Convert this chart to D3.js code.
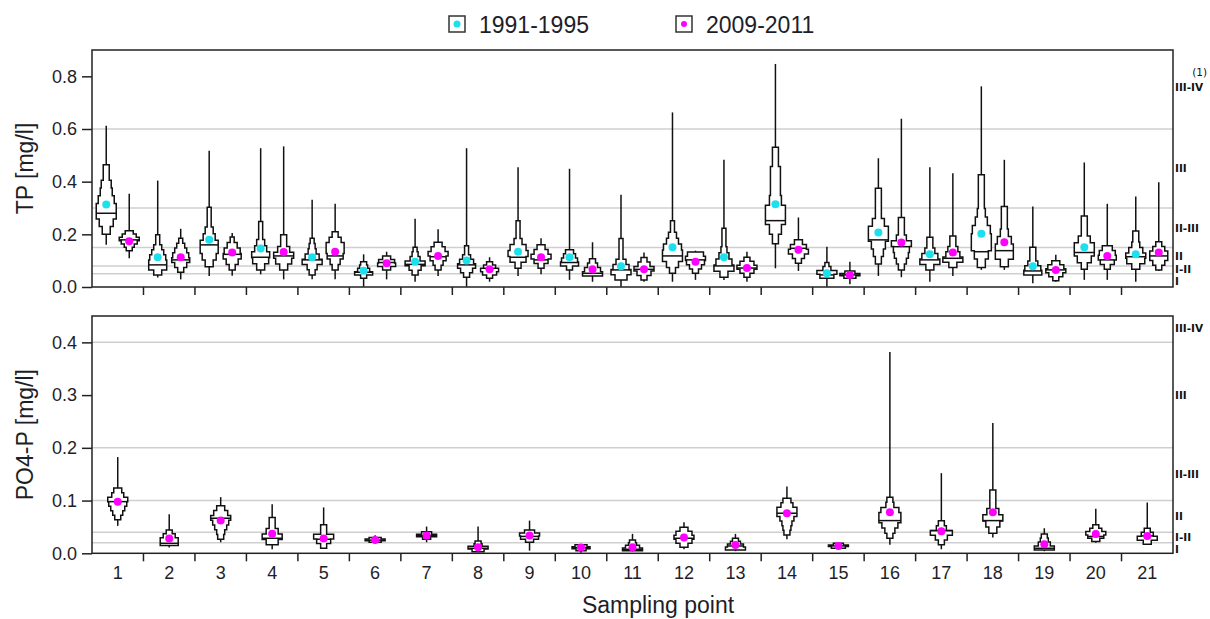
<!DOCTYPE html>
<html>
<head>
<meta charset="utf-8">
<script src="https://cdn.jsdelivr.net/npm/d3@7"></script>
<style>
  html, body { margin: 0; padding: 0; background: #fff; }
  svg { display: block; font-family: "Liberation Sans", Arial, sans-serif; }
</style>
</head>
<body>
<svg id="chart" width="1210" height="619"></svg>
<script>
// ---------------- DATA ----------------
const categories = ["1","2","3","4","5","6","7","8","9","10","11","12","13","14","15","16","17","18","19","20","21"];
const periods = ["1991-1995", "2009-2011"];

// each row: [min, histLow, median, mean, histHigh, max, histogram counts (bottom -> top)]
const tpEarly = [
  [0.160, 0.200, 0.280, 0.313, 0.464, 0.612, [4,7,10,10,8,6,5,3,3]],
  [0.036, 0.046, 0.084, 0.113, 0.198, 0.404, [4,9,9,8,6,4,2,2]],
  [0.042, 0.077, 0.160, 0.179, 0.303, 0.517, [4,7,9,9,6,4,2,2,2]],
  [0.048, 0.065, 0.113, 0.146, 0.249, 0.527, [4,8,9,6,4,2,2,2]],
  [0.029, 0.046, 0.103, 0.113, 0.185, 0.331, [3,5,10,7,4,3,2]],
  [0.001, 0.033, 0.056, 0.062, 0.096, 0.124, [3,9,6,4,3]],
  [0.020, 0.046, 0.086, 0.096, 0.151, 0.259, [3,6,10,5,3,2]],
  [0.001, 0.037, 0.084, 0.101, 0.157, 0.527, [3,6,9,7,4,2,2]],
  [0.042, 0.071, 0.113, 0.134, 0.252, 0.455, [3,8,10,8,4,2,2,2]],
  [0.027, 0.065, 0.093, 0.113, 0.141, 0.449, [3,9,8,6,4]],
  [0.001, 0.027, 0.065, 0.079, 0.184, 0.350, [6,10,8,5,2,2,2,2]],
  [0.020, 0.052, 0.118, 0.151, 0.252, 0.663, [3,6,10,10,9,6,4,2,2]],
  [0.027, 0.037, 0.080, 0.113, 0.223, 0.483, [4,10,8,5,3,2,2,2]],
  [0.071, 0.164, 0.252, 0.314, 0.531, 0.847, [3,6,10,10,6,5,5,5,3,3]],
  [0.001, 0.033, 0.046, 0.052, 0.093, 0.153, [7,10,4,2]],
  [0.042, 0.087, 0.179, 0.207, 0.375, 0.489, [3,5,7,10,10,6,3,3,3,3]],
  [0.020, 0.065, 0.103, 0.124, 0.189, 0.455, [4,10,8,5,3,3]],
  [0.065, 0.074, 0.134, 0.202, 0.426, 0.762, [4,7,10,10,9,6,4,3,3,3,3]],
  [0.014, 0.046, 0.061, 0.079, 0.151, 0.306, [9,8,5,3,3,3]],
  [0.027, 0.067, 0.131, 0.151, 0.270, 0.473, [3,7,10,10,6,3,3,3]],
  [0.020, 0.067, 0.115, 0.124, 0.213, 0.344, [4,9,10,7,4,3,3]]
];
const tpLate = [
  [0.109, 0.138, 0.179, 0.174, 0.214, 0.354, [3,5,8,10,7,4]],
  [0.029, 0.056, 0.103, 0.113, 0.185, 0.221, [3,6,9,8,6,4,2]],
  [0.043, 0.065, 0.124, 0.131, 0.190, 0.205, [3,6,9,8,5,2]],
  [0.029, 0.065, 0.118, 0.133, 0.198, 0.534, [4,8,10,6,3,3]],
  [0.029, 0.065, 0.118, 0.134, 0.210, 0.316, [3,5,8,9,9,6,3]],
  [0.029, 0.065, 0.093, 0.090, 0.118, 0.134, [4,9,8,4]],
  [0.042, 0.065, 0.115, 0.118, 0.170, 0.219, [3,5,8,10,7,4]],
  [0.020, 0.033, 0.071, 0.067, 0.096, 0.113, [3,7,9,6,3]],
  [0.048, 0.071, 0.103, 0.113, 0.160, 0.185, [3,7,10,7,4]],
  [0.020, 0.042, 0.052, 0.067, 0.107, 0.170, [10,8,5,3]],
  [0.020, 0.027, 0.067, 0.067, 0.112, 0.131, [3,7,10,6,3]],
  [0.027, 0.052, 0.103, 0.096, 0.133, 0.138, [3,6,9,10,8]],
  [0.020, 0.037, 0.072, 0.072, 0.113, 0.134, [3,7,10,7,3]],
  [0.061, 0.090, 0.147, 0.141, 0.179, 0.264, [3,6,10,8,4]],
  [0.010, 0.033, 0.046, 0.046, 0.061, 0.096, [6,10,5]],
  [0.037, 0.065, 0.153, 0.169, 0.264, 0.639, [3,5,7,8,10,5,3,3,3]],
  [0.042, 0.074, 0.109, 0.131, 0.194, 0.432, [4,10,7,5,3,3]],
  [0.065, 0.077, 0.138, 0.170, 0.306, 0.483, [4,9,9,7,4,3,3,3]],
  [0.020, 0.024, 0.065, 0.065, 0.100, 0.122, [3,7,10,8,4]],
  [0.027, 0.067, 0.103, 0.118, 0.157, 0.316, [3,7,9,8,5]],
  [0.061, 0.065, 0.118, 0.131, 0.172, 0.398, [3,6,9,9,6,3]]
];
const po4Late = [
  [0.0520, 0.0634, 0.0980, 0.0976, 0.1236, 0.1825, [3,5,7,9,10,6,4]],
  [0.0110, 0.0146, 0.0190, 0.0280, 0.0444, 0.0740, [9,9,6,3]],
  [0.0210, 0.0266, 0.0665, 0.0620, 0.0900, 0.1065, [3,4,6,8,10,7,4]],
  [0.0076, 0.0160, 0.0285, 0.0370, 0.0680, 0.0930, [6,10,6,3,3]],
  [0.0095, 0.0095, 0.0266, 0.0280, 0.0540, 0.0870, [3,7,10,3,3]],
  [0.0190, 0.0210, 0.0250, 0.0250, 0.0300, 0.0340, [6,10,6]],
  [0.0210, 0.0266, 0.0336, 0.0336, 0.0410, 0.0507, [4,10,5]],
  [0.0020, 0.0030, 0.0095, 0.0114, 0.0234, 0.0507, [6,10,4,3]],
  [0.0050, 0.0210, 0.0320, 0.0336, 0.0444, 0.0620, [4,9,10,5]],
  [0.0010, 0.0050, 0.0110, 0.0110, 0.0160, 0.0160, [5,9,6]],
  [0.0040, 0.0050, 0.0076, 0.0114, 0.0253, 0.0368, [10,7,4,3]],
  [0.0076, 0.0114, 0.0285, 0.0300, 0.0494, 0.0590, [4,8,10,8,4]],
  [0.0040, 0.0063, 0.0139, 0.0158, 0.0285, 0.0368, [10,8,5,3]],
  [0.0266, 0.0349, 0.0760, 0.0760, 0.1046, 0.1267, [3,4,5,7,10,10,6,4]],
  [0.0080, 0.0095, 0.0140, 0.0140, 0.0190, 0.0190, [7,10,5]],
  [0.0160, 0.0285, 0.0620, 0.0780, 0.1065, 0.3815, [3,5,8,11,11,9,4,3]],
  [0.0076, 0.0160, 0.0430, 0.0418, 0.0615, 0.1520, [3,6,11,5,3]],
  [0.0300, 0.0380, 0.0620, 0.0780, 0.1200, 0.2470, [4,7,10,6,3,3,3]],
  [0.0040, 0.0063, 0.0095, 0.0171, 0.0368, 0.0475, [10,6,4,3]],
  [0.0200, 0.0222, 0.0320, 0.0368, 0.0540, 0.0843, [4,8,10,6,3]],
  [0.0171, 0.0171, 0.0330, 0.0330, 0.0475, 0.0963, [4,10,6,3]]
];

// quality class boundaries (LAWA) and class labels
const tpLimits = [0.05, 0.08, 0.15, 0.3, 0.6];
const po4Limits = [0.02, 0.04, 0.1, 0.2, 0.4];
const classNames = ["I", "I-II", "II", "II-III", "III", "III-IV"];
const tpClassAt = [0.023, 0.067, 0.115, 0.225, 0.45, 0.76];
const po4ClassAt = [0.008, 0.031, 0.07, 0.15, 0.3, 0.427];
const tpTicks = [0, 0.2, 0.4, 0.6, 0.8];
const po4Ticks = [0, 0.1, 0.2, 0.3, 0.4];

// ---------------- LAYOUT ----------------
const svg = d3.select("#chart");
const L = 92, R = 1173;
const colors = { "1991-1995": "#1de0ee", "2009-2011": "#ff00ff" };
const textColor = "#1e1e28";

const x = d3.scaleBand().domain(categories).range([L, R]).padding(0);
const wScale = d3.scaleLinear().domain([0, 10]).range([0, 10]);

const panels = [
  { title: "TP [mg/l]", top: 50, bottom: 287, max: 0.9, ticks: tpTicks, limits: tpLimits, classAt: tpClassAt,
    series: [{ period: "1991-1995", data: tpEarly, off: -11.5 }, { period: "2009-2011", data: tpLate, off: 11.5 }], note: true, xLabels: false },
  { title: "PO4-P [mg/l]", top: 316, bottom: 553.3, max: 0.45, ticks: po4Ticks, limits: po4Limits, classAt: po4ClassAt,
    series: [{ period: "2009-2011", data: po4Late, off: 0 }], note: false, xLabels: true }
];

panels.forEach(p => {
  const y = d3.scaleLinear().domain([0, p.max]).range([p.bottom, p.top]);
  const g = svg.append("g");

  // grid lines at class limits
  g.selectAll("line.grid").data(p.limits).join("line")
    .attr("x1", L).attr("x2", R)
    .attr("y1", d => y(d)).attr("y2", d => y(d))
    .attr("stroke", "#cfcfcf").attr("stroke-width", 1.5);

  // class labels right of plot
  g.selectAll("text.cls").data(classNames).join("text")
    .attr("x", R + 2).attr("y", (d, i) => y(p.classAt[i]))
    .attr("dy", "0.36em")
    .attr("font-family", "DejaVu Sans, sans-serif").attr("font-weight", "bold")
    .attr("font-size", 10.5).attr("fill", "#111")
    .text(d => d);
  if (p.note) {
    g.append("text").attr("x", R + 34).attr("y", y(p.classAt[5]) - 11)
      .attr("text-anchor", "end")
      .attr("font-family", "DejaVu Sans, sans-serif").attr("font-size", 10.5).attr("fill", "#111")
      .text("(1)");
  }

  // y axis
  const ya = g.append("g").attr("transform", `translate(${L},0)`)
    .call(d3.axisLeft(y).tickValues(p.ticks).tickFormat(d3.format(".1f")).tickSize(10).tickPadding(5));
  ya.select(".domain").remove();
  ya.selectAll("line").attr("stroke", "#222").attr("stroke-width", 1.5);
  ya.selectAll("text").attr("font-size", 18).attr("fill", textColor)
    .attr("font-family", "Liberation Sans, Arial, sans-serif");

  // category separator ticks at bottom
  g.selectAll("line.sep").data(categories.slice(1)).join("line")
    .attr("x1", d => x(d)).attr("x2", d => x(d))
    .attr("y1", p.bottom).attr("y2", p.bottom + 8)
    .attr("stroke", "#222").attr("stroke-width", 1.5);

  if (p.xLabels) {
    const xa = g.append("g").attr("transform", `translate(0,${p.bottom})`)
      .call(d3.axisBottom(x).tickSize(0).tickPadding(13));
    xa.select(".domain").remove();
    xa.selectAll("text").attr("font-size", 18).attr("fill", textColor)
      .attr("font-family", "Liberation Sans, Arial, sans-serif");
  }

  // violins
  p.series.forEach(s => {
    const vg = g.append("g");
    s.data.forEach((row, i) => {
      const [mn, lo, med, mean, hi, mx, counts] = row;
      const cx = x(categories[i]) + x.bandwidth() / 2 + s.off;
      const n = counts.length, b = (hi - lo) / n;
      // whisker
      vg.append("line").attr("x1", cx).attr("x2", cx)
        .attr("y1", y(mn)).attr("y2", y(mx))
        .attr("stroke", "#111").attr("stroke-width", 1.5);
      // stepped histogram outline
      const pts = [];
      for (let k = 0; k < n; k++) {
        pts.push([cx + wScale(counts[k]), y(lo + k * b)], [cx + wScale(counts[k]), y(lo + (k + 1) * b)]);
      }
      for (let k = n - 1; k >= 0; k--) {
        pts.push([cx - wScale(counts[k]), y(lo + (k + 1) * b)], [cx - wScale(counts[k]), y(lo + k * b)]);
      }
      vg.append("path").attr("d", d3.line()(pts) + "Z")
        .attr("fill", "#fff").attr("stroke", "#111").attr("stroke-width", 1.5)
        .attr("stroke-linejoin", "miter");
      // median line
      const mk = Math.max(0, Math.min(n - 1, Math.floor((med - lo) / b)));
      const mw = wScale(counts[mk]);
      vg.append("line").attr("x1", cx - mw).attr("x2", cx + mw)
        .attr("y1", y(med)).attr("y2", y(med))
        .attr("stroke", "#111").attr("stroke-width", 1.5);
      // mean dot
      vg.append("circle").attr("cx", cx).attr("cy", y(mean)).attr("r", 4)
        .attr("fill", colors[s.period]);
    });
  });

  // frame
  g.append("rect").attr("x", L).attr("y", p.top).attr("width", R - L).attr("height", p.bottom - p.top)
    .attr("fill", "none").attr("stroke", "#222").attr("stroke-width", 1.5);

  // y title
  g.append("text")
    .attr("transform", `translate(33,${(p.top + p.bottom) / 2}) rotate(-90)`)
    .attr("text-anchor", "middle").attr("font-size", 23).attr("fill", textColor)
    .text(p.title);
});

// x title
svg.append("text").attr("x", 658).attr("y", 613).attr("text-anchor", "middle")
  .attr("font-size", 23).attr("fill", textColor).text("Sampling point");

// legend
const legendX = [449, 676];
const lg = svg.append("g");
periods.forEach((per, i) => {
  const gx = legendX[i];
  lg.append("rect").attr("x", gx).attr("y", 16).attr("width", 16).attr("height", 16)
    .attr("fill", "#fff").attr("stroke", "#333").attr("stroke-width", 1.5);
  lg.append("circle").attr("cx", gx + 8).attr("cy", 24).attr("r", i === 0 ? 3.5 : 3)
    .attr("fill", colors[per]);
  lg.append("text").attr("x", gx + 30).attr("y", 33)
    .attr("font-size", 23).attr("fill", textColor).text(per);
});
</script>
</body>
</html>
